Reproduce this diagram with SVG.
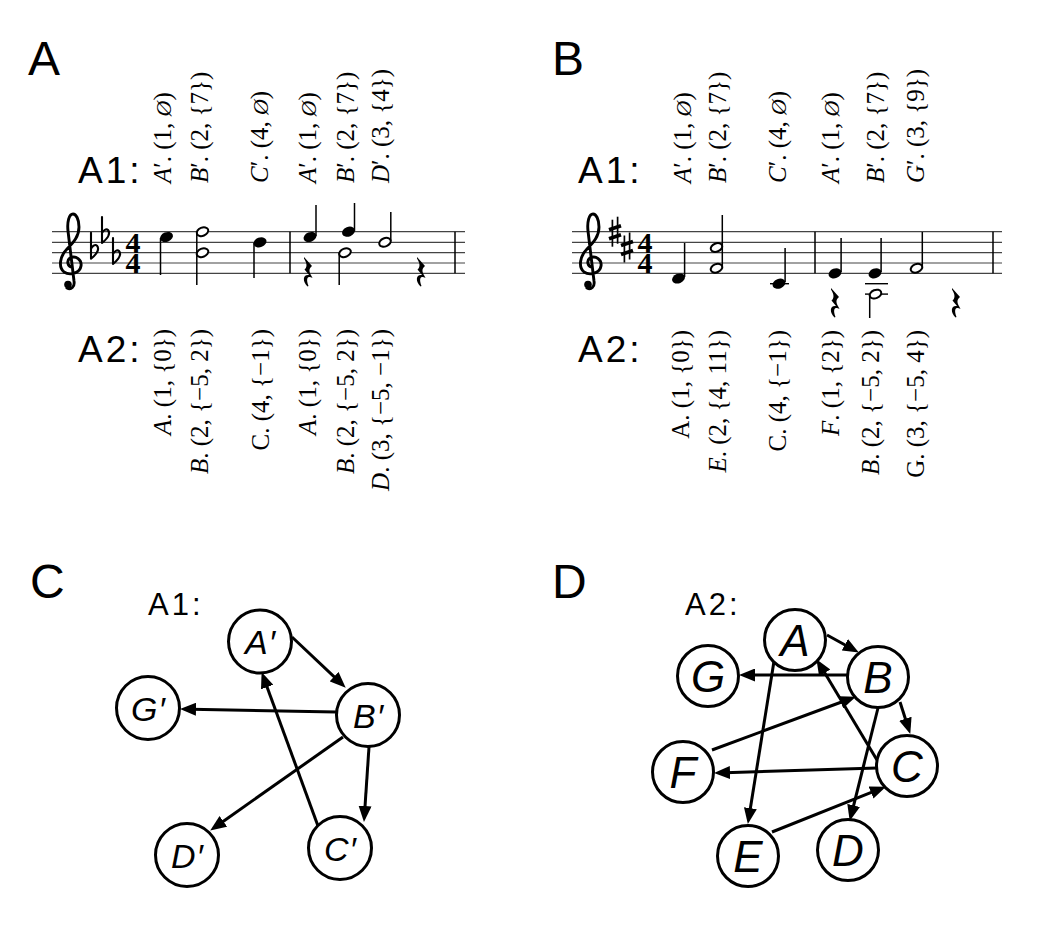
<svg xmlns="http://www.w3.org/2000/svg" xmlns:xlink="http://www.w3.org/1999/xlink" width="1044" height="927" viewBox="0 0 1044 927">
<style>
  .sans { font-family: "Liberation Sans", Arial, sans-serif; fill: #000; }
  .panel { font-size: 48px; }
  .row { font-size: 37px; letter-spacing: 3px; }
  .row2 { font-size: 31px; letter-spacing: 3px; }
  .lbl { font-family: "Liberation Serif", "Times New Roman", "DejaVu Serif", serif; font-size: 25px; fill: #000; }
  .it { font-style: italic; }
  .es { font-style: italic; font-size: 22px; }
  .staff line { stroke: #444; stroke-width: 1.2; }
  .bar { stroke: #000; stroke-width: 1.5; }
  .stem { stroke: #000; stroke-width: 1.5; }
  .ledger { stroke: #000; stroke-width: 1.4; }
  .head { fill: #000; }
  .half { fill: #fff; stroke: #000; stroke-width: 2; }
  .sym { fill: none; stroke: #000; stroke-linecap: round; stroke-linejoin: round; }
  .ts { font-family: "Liberation Serif", "Times New Roman", serif; font-weight: bold; font-size: 30px; text-anchor: middle; fill: #000; }
  .node circle { fill: #fff; stroke: #000; stroke-width: 3; }
  .nl { font-family: "Liberation Sans", Arial, sans-serif; font-style: italic; text-anchor: middle; fill: #000; }
  .nlc { font-size: 34px; }
  .nld { font-size: 44px; }
  .edge { stroke: #000; stroke-width: 3; fill: none; marker-end: url(#ah); }
</style>
<defs>
  <marker id="ah" markerUnits="userSpaceOnUse" markerWidth="16" markerHeight="13" refX="5" refY="6.5" orient="auto">
    <path d="M0,0 L16,6.5 L0,13 z" fill="#000"/>
  </marker>
  <g id="clef">
    <path class="sym" stroke-width="2.9" d="M1,4 C-3,4 -5,-2 -1,-5 C5,-8 11,-3 10,3 C9,10 -1,13 -7,9 C-13,4 -11,-7 -4,-14 C3,-21 8,-27 8,-36 C8,-44 5,-49 2,-49 C-2,-49 -4,-41 -3,-32 L3,18 C4,24 0,27 -4,25"/>
    <circle cx="-3" cy="21.5" r="3.8" fill="#000"/>
  </g>
  <path id="flat" class="sym" stroke-width="2.1" d="M0,-20 L0,6 C5,2 9,-3 6,-7 C4,-9 1,-6 0,-4"/>
  <g id="sharp" stroke="#000">
    <line x1="-2.6" y1="-12" x2="-2.6" y2="15" stroke-width="1.7"/>
    <line x1="2.6" y1="-15" x2="2.6" y2="12" stroke-width="1.7"/>
    <line x1="-6" y1="-2" x2="6" y2="-6" stroke-width="3.6"/>
    <line x1="-6" y1="7" x2="6" y2="3" stroke-width="3.6"/>
  </g>
  <path id="qrest" fill="#000" d="M2,0 L10,9 C7,11.5 6.5,14 9.5,19 L10.5,21 C7,19 3,19.5 6.5,29 L5.5,29.5 C0,24 1,17 7,18 L2.5,12.5 C5,10.5 5.5,7 2,1.5 Z"/>
  <ellipse id="qh" rx="6.7" ry="4.8" transform="rotate(-22)" class="head"/>
  <ellipse id="hh" rx="6" ry="4.1" transform="rotate(-22)" class="half"/>
</defs>

<rect width="1044" height="927" fill="#fff"/>

<g id="panel-labels" class="sans panel">
  <text x="28" y="75">A</text>
  <text x="552" y="75">B</text>
  <text x="30" y="598">C</text>
  <text x="552" y="598">D</text>
</g>

<!-- Panel A -->
<g id="panelA">
  <text class="sans row" x="78" y="183">A1:</text>
  <text class="sans row" x="78" y="362">A2:</text>
  <g id="A-top-labels" class="lbl">
    <text transform="translate(171,183) rotate(-90)"><tspan class="it">A</tspan>′. (1, <tspan class="es">Ø</tspan>)</text>
    <text transform="translate(208,183) rotate(-90)"><tspan class="it">B</tspan>′. (2, {7})</text>
    <text transform="translate(268,183) rotate(-90)"><tspan class="it">C</tspan>′. (4, <tspan class="es">Ø</tspan>)</text>
    <text transform="translate(316,183) rotate(-90)"><tspan class="it">A</tspan>′. (1, <tspan class="es">Ø</tspan>)</text>
    <text transform="translate(354,183) rotate(-90)"><tspan class="it">B</tspan>′. (2, {7})</text>
    <text transform="translate(389,183) rotate(-90)"><tspan class="it">D</tspan>′. (3, {4})</text>
  </g>
  <g id="A-bottom-labels" class="lbl" text-anchor="end">
    <text transform="translate(171,329) rotate(-90)"><tspan class="it">A</tspan>. (1, {0})</text>
    <text transform="translate(208,329) rotate(-90)"><tspan class="it">B</tspan>. (2, {−5, 2})</text>
    <text transform="translate(269,329) rotate(-90)">C. (4, {−1})</text>
    <text transform="translate(316,329) rotate(-90)"><tspan class="it">A</tspan>. (1, {0})</text>
    <text transform="translate(354,329) rotate(-90)"><tspan class="it">B</tspan>. (2, {−5, 2})</text>
    <text transform="translate(389,329) rotate(-90)"><tspan class="it">D</tspan>. (3, {−5, −1})</text>
  </g>
  <g id="A-staff">
    <g class="staff">
      <line x1="52" y1="231.7" x2="465" y2="231.7"/>
      <line x1="52" y1="242.3" x2="465" y2="242.3"/>
      <line x1="52" y1="252.7" x2="465" y2="252.7"/>
      <line x1="52" y1="263" x2="465" y2="263"/>
      <line x1="52" y1="273.3" x2="465" y2="273.3"/>
    </g>
    <use xlink:href="#clef" transform="translate(71,263)"/>
    <use xlink:href="#flat" transform="translate(91,252.7)"/>
    <use xlink:href="#flat" transform="translate(102,237)"/>
    <use xlink:href="#flat" transform="translate(113,258)"/>
    <text class="ts"><tspan x="133" y="252.7">4</tspan><tspan x="133" y="273.3">4</tspan></text>
    <line class="bar" x1="290" y1="231.7" x2="290" y2="273.3"/>
    <line class="bar" x1="455" y1="231.7" x2="455" y2="273.3"/>
    <use xlink:href="#qh" transform="translate(166.5,237)"/>
    <line class="stem" x1="160.5" y1="238" x2="160.5" y2="275"/>
    <use xlink:href="#hh" transform="translate(202.5,231.7)"/>
    <use xlink:href="#hh" transform="translate(202.5,252.7)"/>
    <line class="stem" x1="196.8" y1="232" x2="196.8" y2="285"/>
    <use xlink:href="#qh" transform="translate(260,242.3)"/>
    <line class="stem" x1="254" y1="243" x2="254" y2="278"/>
    <use xlink:href="#qh" transform="translate(310,237)"/>
    <line class="stem" x1="316" y1="236" x2="316" y2="205"/>
    <use xlink:href="#qrest" transform="translate(302,257)"/>
    <use xlink:href="#qh" transform="translate(348.5,231.7)"/>
    <line class="stem" x1="354.5" y1="231" x2="354.5" y2="203"/>
    <use xlink:href="#hh" transform="translate(345,252.7)"/>
    <line class="stem" x1="339.2" y1="253" x2="339.2" y2="285"/>
    <use xlink:href="#hh" transform="translate(385,242.3)"/>
    <line class="stem" x1="390.8" y1="241" x2="390.8" y2="212"/>
    <use xlink:href="#qrest" transform="translate(415,257)"/>
  </g>
</g>

<!-- Panel B -->
<g id="panelB">
  <text class="sans row" x="578" y="183">A1:</text>
  <text class="sans row" x="578" y="362">A2:</text>
  <g id="B-top-labels" class="lbl">
    <text transform="translate(691,183) rotate(-90)"><tspan class="it">A</tspan>′. (1, <tspan class="es">Ø</tspan>)</text>
    <text transform="translate(726,183) rotate(-90)"><tspan class="it">B</tspan>′. (2, {7})</text>
    <text transform="translate(786,183) rotate(-90)"><tspan class="it">C</tspan>′. (4, <tspan class="es">Ø</tspan>)</text>
    <text transform="translate(839,183) rotate(-90)"><tspan class="it">A</tspan>′. (1, <tspan class="es">Ø</tspan>)</text>
    <text transform="translate(884,183) rotate(-90)"><tspan class="it">B</tspan>′. (2, {7})</text>
    <text transform="translate(924,183) rotate(-90)"><tspan class="it">G</tspan>′. (3, {9})</text>
  </g>
  <g id="B-bottom-labels" class="lbl" text-anchor="end">
    <text transform="translate(689,330) rotate(-90)">A.  (1, {0})</text>
    <text transform="translate(726,330) rotate(-90)"><tspan class="it">E</tspan>. (2, {4, 11})</text>
    <text transform="translate(786,330) rotate(-90)">C. (4, {−1})</text>
    <text transform="translate(839,330) rotate(-90)"><tspan class="it">F</tspan>. (1, {2})</text>
    <text transform="translate(879,330) rotate(-90)"><tspan class="it">B</tspan>. (2, {−5, 2})</text>
    <text transform="translate(924,330) rotate(-90)">G. (3, {−5, 4})</text>
  </g>
  <g id="B-staff">
    <g class="staff">
      <line x1="572" y1="231.7" x2="1002" y2="231.7"/>
      <line x1="572" y1="242.3" x2="1002" y2="242.3"/>
      <line x1="572" y1="252.7" x2="1002" y2="252.7"/>
      <line x1="572" y1="263" x2="1002" y2="263"/>
      <line x1="572" y1="273.3" x2="1002" y2="273.3"/>
    </g>
    <use xlink:href="#clef" transform="translate(591,263)"/>
    <use xlink:href="#sharp" transform="translate(615,231.7)"/>
    <use xlink:href="#sharp" transform="translate(627,247.5)"/>
    <text class="ts"><tspan x="645" y="252.7">4</tspan><tspan x="645" y="273.3">4</tspan></text>
    <line class="bar" x1="815" y1="231.7" x2="815" y2="273.3"/>
    <line class="bar" x1="993" y1="231.7" x2="993" y2="273.3"/>
    <use xlink:href="#qh" transform="translate(678.5,278.5)"/>
    <line class="stem" x1="684.6" y1="277" x2="684.6" y2="243"/>
    <use xlink:href="#hh" transform="translate(716.5,247.5)"/>
    <use xlink:href="#hh" transform="translate(716.5,268.2)"/>
    <line class="stem" x1="722.3" y1="267" x2="722.3" y2="215"/>
    <line class="ledger" x1="770" y1="283.7" x2="789" y2="283.7"/>
    <use xlink:href="#qh" transform="translate(779,283.7)"/>
    <line class="stem" x1="785.1" y1="282" x2="785.1" y2="248"/>
    <use xlink:href="#qh" transform="translate(835,273.3)"/>
    <line class="stem" x1="841.1" y1="272" x2="841.1" y2="238"/>
    <use xlink:href="#qrest" transform="translate(829,288)"/>
    <line class="ledger" x1="865" y1="283.7" x2="888" y2="283.7"/>
    <line class="ledger" x1="865" y1="294.1" x2="888" y2="294.1"/>
    <use xlink:href="#qh" transform="translate(875,273.3)"/>
    <line class="stem" x1="881.1" y1="272" x2="881.1" y2="238"/>
    <use xlink:href="#hh" transform="translate(875.5,294.1)"/>
    <line class="stem" x1="869.7" y1="295" x2="869.7" y2="318"/>
    <use xlink:href="#hh" transform="translate(916.5,268.2)"/>
    <line class="stem" x1="922.3" y1="267" x2="922.3" y2="232"/>
    <use xlink:href="#qrest" transform="translate(950,288)"/>
  </g>
</g>

<!-- Panel C -->
<g id="panelC">
  <text class="sans row2" x="148" y="615">A1:</text>
  <g id="C-connectors">
    <path class="edge" d="M292,637 L337.7,680.1"/>
    <path class="edge" d="M336,712 L191,709.2"/>
    <path class="edge" d="M343,737 L219.2,824.2"/>
    <path class="edge" d="M369,747 L364.7,811"/>
    <path class="edge" d="M318,826 L265.4,682.4"/>
  </g>
  <g id="C-nodeA" class="node"><circle cx="260" cy="641.5" r="31.5"/><text class="nl nlc" x="260" y="654">A<tspan dx="1">′</tspan></text></g>
  <g id="C-nodeB" class="node"><circle cx="368" cy="715" r="31.5"/><text class="nl nlc" x="368" y="727.5">B<tspan dx="1">′</tspan></text></g>
  <g id="C-nodeG" class="node"><circle cx="148" cy="708" r="31.5"/><text class="nl nlc" x="148" y="720.5">G<tspan dx="1">′</tspan></text></g>
  <g id="C-nodeD" class="node"><circle cx="187" cy="855" r="31.5"/><text class="nl nlc" x="187" y="867.5">D<tspan dx="1">′</tspan></text></g>
  <g id="C-nodeC" class="node"><circle cx="340" cy="848" r="31.5"/><text class="nl nlc" x="340" y="860.5">C<tspan dx="1">′</tspan></text></g>
</g>

<!-- Panel D -->
<g id="panelD">
  <text class="sans row2" x="685" y="615">A2:</text>
  <g id="D-connectors">
    <path class="edge" d="M827,635 L849.2,647.2"/>
    <path class="edge" d="M848,675 L750,675"/>
    <path class="edge" d="M877,760 L822.1,668.6"/>
    <path class="edge" d="M775,655 L749.6,813.1"/>
    <path class="edge" d="M712,750 L845.6,700.5"/>
    <path class="edge" d="M900,702 L906.9,723.5"/>
    <path class="edge" d="M878,708 L852.4,810.3"/>
    <path class="edge" d="M877,768 L725,772.7"/>
    <path class="edge" d="M772,832 L875.7,790.7"/>
  </g>
  <g id="D-nodeA" class="node"><circle cx="795" cy="640" r="30.5"/><text class="nl nld" x="795" y="655.5">A</text></g>
  <g id="D-nodeB" class="node"><circle cx="878" cy="677" r="30.5"/><text class="nl nld" x="878" y="692.5">B</text></g>
  <g id="D-nodeG" class="node"><circle cx="708" cy="676" r="30.5"/><text class="nl nld" x="708" y="691.5">G</text></g>
  <g id="D-nodeF" class="node"><circle cx="683" cy="772" r="30.5"/><text class="nl nld" x="683" y="787.5">F</text></g>
  <g id="D-nodeC" class="node"><circle cx="907" cy="766" r="30.5"/><text class="nl nld" x="907" y="781.5">C</text></g>
  <g id="D-nodeE" class="node"><circle cx="748" cy="856" r="30.5"/><text class="nl nld" x="748" y="871.5">E</text></g>
  <g id="D-nodeD" class="node"><circle cx="848" cy="850" r="30.5"/><text class="nl nld" x="848" y="865.5">D</text></g>
</g>
</svg>
